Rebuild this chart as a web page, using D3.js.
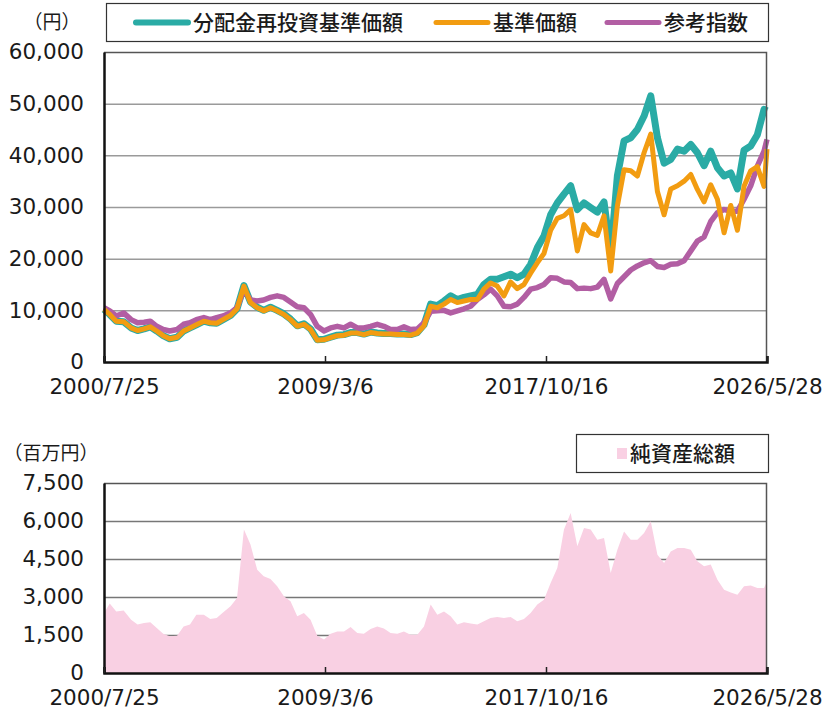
<!DOCTYPE html>
<html>
<head>
<meta charset="utf-8">
<script src="https://cdn.jsdelivr.net/npm/d3@7"></script>
<style>
  body { margin: 0; background: #fff; }
  svg text { fill: #1a1a1a; }
</style>
</head>
<body>
<div id="chart"></div>
<script>
// dates shared by all series (roughly quarterly samples)
var dates = [
  "2000-07-25","2000-10-15","2001-01-15","2001-05-01","2001-08-15","2001-11-15","2002-02-15","2002-05-15","2002-08-15","2002-11-15",
  "2003-02-15","2003-06-01","2003-09-01","2003-12-01","2004-03-01","2004-06-15","2004-09-15","2004-12-15","2005-03-15","2005-06-30",
  "2005-10-01","2006-01-07","2006-04-10","2006-07-15","2006-10-15","2007-01-20","2007-04-25","2007-07-30","2007-11-01","2008-02-05",
  "2008-05-10","2008-08-12","2008-11-15","2009-02-20","2009-05-25","2009-08-28","2009-12-01","2010-03-05","2010-06-08","2010-09-10",
  "2010-12-15","2011-03-20","2011-06-22","2011-09-25","2011-12-30","2012-04-03","2012-07-06","2012-10-10","2013-01-13","2013-04-18",
  "2013-07-22","2013-10-25","2014-01-28","2014-05-02","2014-08-05","2014-11-08","2015-02-12","2015-05-16","2015-08-19","2015-11-22",
  "2016-02-25","2016-05-30","2016-09-02","2016-12-06","2017-03-11","2017-06-14","2017-09-17","2017-12-21","2018-03-26","2018-06-29",
  "2018-10-02","2019-01-05","2019-04-10","2019-07-14","2019-10-17","2020-01-20","2020-04-24","2020-07-28","2020-10-31","2021-02-03",
  "2021-05-09","2021-08-12","2021-11-15","2022-02-18","2022-05-24","2022-08-27","2022-11-30","2023-03-05","2023-06-08","2023-09-10",
  "2023-12-14","2024-03-18","2024-06-21","2024-09-24","2024-12-28","2025-04-02","2025-07-05","2025-10-08","2026-01-11","2026-04-16",
  "2026-05-28"
];

// 分配金再投資基準価額 (円)
var reinvested = [
  10200,9200,7900,7800,6600,6100,6400,6800,6000,5100,
  4500,4800,6000,6600,7200,7900,7600,7500,8200,9000,
  10300,14800,11600,10600,10000,10600,10000,9300,8300,7000,
  7400,6400,4300,4400,4800,5200,5300,5700,5700,5400,
  5800,5600,5500,5500,5400,5400,5300,5700,7200,11200,
  10900,11800,12800,12100,12500,12800,13100,15000,16000,16000,
  16500,17000,16300,17000,18900,22100,24400,28500,30800,32500,
  34100,29500,30800,29900,29000,31000,21000,36000,42800,43400,
  45000,47600,51500,43400,38500,39200,41200,40800,42100,40500,
  38000,40800,37600,36000,36600,33500,41000,41800,44000,48900,
  48600
];

// 基準価額 (円)
var nav = [
  10200,9200,7900,7800,6600,6100,6400,6800,6000,5100,
  4500,4800,6000,6600,7200,7900,7600,7500,8200,9000,
  10300,14700,11500,10500,9900,10500,9900,9200,8200,6900,
  7300,6300,4200,4300,4700,5100,5200,5600,5600,5300,
  5700,5500,5400,5400,5300,5300,5200,5600,7000,10800,
  10500,11200,12100,11500,11800,12100,12100,14100,15300,14700,
  12800,15500,14200,15000,17200,19200,21000,25500,27800,28300,
  29500,21500,26600,25000,24500,28300,17600,30200,37200,37000,
  36000,40500,44100,33000,28500,33500,34100,35000,36300,33400,
  31000,34300,31500,25000,30300,25500,34000,37000,37800,34000,
  41200
];

// 参考指数
var benchmark = [
  10500,9900,8900,9500,8200,7600,7700,7900,6900,6300,
  6000,6300,7300,7600,8200,8600,8200,8600,8900,9500,
  10500,14000,12000,11800,12000,12500,12800,12500,11600,10700,
  10500,9200,6900,6000,6600,6900,6600,7300,6600,6600,
  6900,7300,6900,6300,6300,6800,6300,6400,7600,9800,
  9900,10000,9500,9900,10300,10800,12100,13000,14100,12800,
  10800,10700,11200,12500,14100,14400,15000,16300,16200,15500,
  15400,14200,14300,14200,14500,16000,12200,15200,16500,17800,
  18600,19200,19600,18500,18300,18900,19000,19600,21500,23400,
  24200,27200,28900,29500,29200,29200,31500,34100,37900,40800,
  43100
];

// 純資産総額 (百万円)
var netAssets = [
  2370,2740,2430,2470,2100,1910,1970,2000,1780,1550,
  1450,1470,1840,1910,2300,2300,2130,2170,2390,2630,
  2960,5660,5070,4080,3820,3710,3420,3030,2830,2240,
  2370,2100,1470,1320,1550,1640,1640,1820,1580,1550,
  1740,1840,1760,1580,1550,1640,1510,1510,1840,2700,
  2300,2430,2240,1910,2000,1950,1910,2040,2170,2210,
  2170,2210,2040,2130,2370,2700,2890,3550,4140,5660,
  6320,5000,5720,5660,5260,5330,3950,4870,5590,5260,
  5260,5530,5990,4670,4340,4800,4930,4930,4870,4410,
  4210,4280,3680,3290,3180,3090,3420,3450,3360,3360,
  3620
];

var xTicks = ["2000-07-25", "2009-03-06", "2017-10-16", "2026-05-28"];
var priceTicks = [0, 10000, 20000, 30000, 40000, 50000, 60000];
var assetTicks = [0, 1500, 3000, 4500, 6000, 7500];

var width = 827, height = 711;
var parse = d3.timeParse("%Y-%m-%d");
var fmtDate = d3.timeFormat("%Y/%-m/%-d");
var numFont = "'DejaVu Sans', 'Noto Sans CJK JP', sans-serif";
var cjkFont = "'Noto Sans CJK JP', sans-serif";

var svg = d3.select("#chart").append("svg")
  .attr("width", width)
  .attr("height", height);

var x = d3.scaleTime()
  .domain([parse(xTicks[0]), parse(xTicks[3])])
  .range([104, 767]);

var yTop = d3.scaleLinear().domain([0, 60000]).range([362, 52]);
var yBot = d3.scaleLinear().domain([0, 7500]).range([673, 483]);

var parsed = dates.map(parse);

function styleYAxis(g) {
  g.select(".domain").attr("stroke", "#111").attr("stroke-width", 2.5);
  g.selectAll("text").attr("font-family", numFont).attr("font-size", 21.5).attr("fill", "#1a1a1a");
}
function styleXAxis(g) {
  g.select(".domain").attr("stroke", "#111").attr("stroke-width", 2.5);
  g.selectAll("line").attr("stroke", "#222").attr("stroke-width", 1.5);
  g.selectAll("text").attr("font-family", numFont).attr("font-size", 21.5).attr("fill", "#1a1a1a");
}

// ---------- top chart ----------
svg.append("g")
  .attr("transform", "translate(104,0)")
  .call(d3.axisLeft(yTop).tickValues(priceTicks.slice(1, -1)).tickSize(-663).tickFormat(""))
  .call(function(g) {
    g.select(".domain").remove();
    g.selectAll("line").attr("stroke", "#9a9a9a").attr("stroke-width", 1.5);
  });

var line = d3.line()
  .x(function(d, i) { return x(parsed[i]); })
  .y(function(d) { return yTop(d); });

svg.append("path").datum(reinvested)
  .attr("d", line).attr("fill", "none")
  .attr("stroke", "#2aaba5").attr("stroke-width", 7).attr("stroke-linejoin", "round");
svg.append("path").datum(benchmark)
  .attr("d", line).attr("fill", "none")
  .attr("stroke", "#b25ea3").attr("stroke-width", 5.5).attr("stroke-linejoin", "round");
svg.append("path").datum(nav)
  .attr("d", line).attr("fill", "none")
  .attr("stroke", "#f29c11").attr("stroke-width", 5).attr("stroke-linejoin", "round");

// border top/right
svg.append("path")
  .attr("d", "M104,52.5H766.5V362")
  .attr("fill", "none").attr("stroke", "#555").attr("stroke-width", 1.5);

svg.append("g")
  .attr("transform", "translate(104,0)")
  .call(d3.axisLeft(yTop).tickValues(priceTicks).tickSize(0).tickPadding(20).tickFormat(d3.format(",")))
  .call(styleYAxis);

svg.append("g")
  .attr("transform", "translate(0,362)")
  .call(d3.axisBottom(x).tickValues(xTicks.map(parse)).tickSize(-6).tickPadding(17).tickFormat(fmtDate))
  .call(styleXAxis);

svg.append("text").attr("x", 52).attr("y", 29)
  .attr("text-anchor", "middle").attr("font-family", cjkFont).attr("font-size", 19)
  .text("（円）");

// legend
var legendTop = svg.append("g");
legendTop.append("rect")
  .attr("x", 106.5).attr("y", 3.5).attr("width", 662).attr("height", 38)
  .attr("fill", "#fff").attr("stroke", "#333").attr("stroke-width", 1.2);
var legendItems = [
  { label: "分配金再投資基準価額", color: "#2aaba5", w: 6, x0: 136 },
  { label: "基準価額", color: "#f29c11", w: 5, x0: 436 },
  { label: "参考指数", color: "#b25ea3", w: 5, x0: 607 }
];
legendItems.forEach(function(it) {
  legendTop.append("line")
    .attr("x1", it.x0).attr("x2", it.x0 + 52).attr("y1", 22.5).attr("y2", 22.5)
    .attr("stroke", it.color).attr("stroke-width", it.w).attr("stroke-linecap", "round");
  legendTop.append("text")
    .attr("x", it.x0 + 57).attr("y", 30)
    .attr("font-family", cjkFont).attr("font-size", 21).attr("font-weight", 500)
    .text(it.label);
});

// ---------- bottom chart ----------
svg.append("g")
  .attr("transform", "translate(104,0)")
  .call(d3.axisLeft(yBot).tickValues(assetTicks.slice(1, -1)).tickSize(-663).tickFormat(""))
  .call(function(g) {
    g.select(".domain").remove();
    g.selectAll("line").attr("stroke", "#777").attr("stroke-width", 1.5);
  });

var area = d3.area()
  .x(function(d, i) { return x(parsed[i]); })
  .y0(yBot(0))
  .y1(function(d) { return yBot(d); });

svg.append("path").datum(netAssets)
  .attr("d", area).attr("fill", "#f9d0e3");

svg.append("path")
  .attr("d", "M104,483.5H766.5V673")
  .attr("fill", "none").attr("stroke", "#555").attr("stroke-width", 1.5);

svg.append("g")
  .attr("transform", "translate(104,0)")
  .call(d3.axisLeft(yBot).tickValues(assetTicks).tickSize(0).tickPadding(20).tickFormat(d3.format(",")))
  .call(styleYAxis);

svg.append("g")
  .attr("transform", "translate(0,673)")
  .call(d3.axisBottom(x).tickValues(xTicks.map(parse)).tickSize(-6).tickPadding(17).tickFormat(fmtDate))
  .call(styleXAxis);

svg.append("text").attr("x", 51).attr("y", 460)
  .attr("text-anchor", "middle").attr("font-family", cjkFont).attr("font-size", 19)
  .text("（百万円）");

var legendBot = svg.append("g");
legendBot.append("rect")
  .attr("x", 576.5).attr("y", 434.5).attr("width", 192).attr("height", 38)
  .attr("fill", "#fff").attr("stroke", "#333").attr("stroke-width", 1.2);
legendBot.append("rect")
  .attr("x", 617).attr("y", 448).attr("width", 10).attr("height", 11)
  .attr("fill", "#f9d0e3");
legendBot.append("text")
  .attr("x", 630).attr("y", 461)
  .attr("font-family", cjkFont).attr("font-size", 21).attr("font-weight", 500)
  .text("純資産総額");
</script>
</body>
</html>
